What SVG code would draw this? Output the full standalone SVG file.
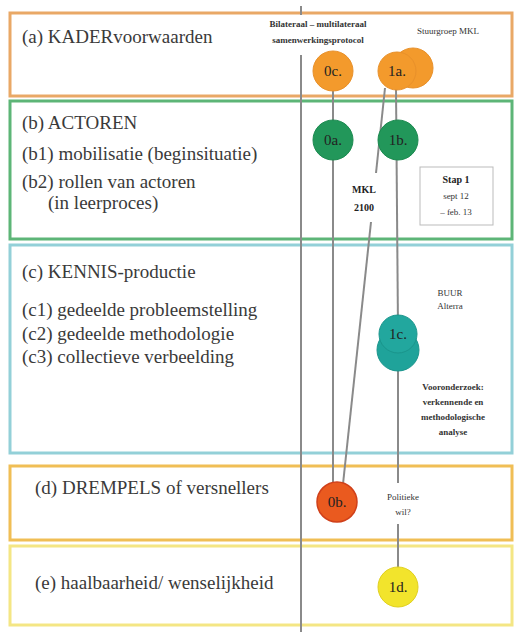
<svg xmlns="http://www.w3.org/2000/svg" width="514" height="632" viewBox="0 0 514 632">
<style>
text{font-family:'Liberation Serif','DejaVu Serif','Times New Roman',serif}
.box{fill:#ffffff;stroke-width:3}
.lbl{font-size:19px;fill:#3a3a3a}
.sm{font-size:9px;fill:#333;text-anchor:middle}
.smb{font-size:10px;fill:#222;text-anchor:middle;font-weight:bold}
.nt{font-size:15px;fill:#222;text-anchor:middle}
.conn line{stroke:#8a8a8a;stroke-width:2}
</style>
<rect width="514" height="632" fill="#ffffff"/>
<g id="box-a"><rect class="box" x="10" y="13" width="502" height="83" stroke="#E9A866"/>
<text class="lbl" x="22" y="43">(a) KADERvoorwaarden</text></g>
<g id="box-b"><rect class="box" x="10" y="101" width="502" height="138" stroke="#5DB577"/>
<text class="lbl" x="22" y="129">(b) ACTOREN</text>
<text class="lbl" x="22" y="160">(b1) mobilisatie (beginsituatie)</text>
<text class="lbl" x="22" y="188">(b2) rollen van actoren</text>
<text class="lbl" x="48" y="209">(in leerproces)</text></g>
<g id="box-c"><rect class="box" x="10" y="245" width="502" height="208" stroke="#93D0D8"/>
<text class="lbl" x="22" y="278">(c) KENNIS-productie</text>
<text class="lbl" x="22" y="316">(c1) gedeelde probleemstelling</text>
<text class="lbl" x="22" y="340">(c2) gedeelde methodologie</text>
<text class="lbl" x="22" y="363">(c3) collectieve verbeelding</text></g>
<g id="box-d"><rect class="box" x="10" y="466" width="502" height="74" stroke="#F0BE55"/>
<text class="lbl" x="35" y="494">(d) DREMPELS of versnellers</text></g>
<g id="box-e"><rect class="box" x="10" y="546" width="502" height="79" stroke="#F4E684"/>
<text class="lbl" x="35" y="589">(e) haalbaarheid/ wenselijkheid</text></g>
<g id="axis"><line x1="301" y1="6" x2="301" y2="632" stroke="#8a8a8a" stroke-width="2"/></g>
<g class="conn" id="connectors">
<line x1="333" y1="88" x2="333" y2="484"/>
<line x1="385" y1="88" x2="376" y2="173"/>
<line x1="371" y1="222" x2="343" y2="484"/>
<line x1="396" y1="88" x2="398" y2="330"/>
<line x1="398" y1="360" x2="398" y2="483"/>
<line x1="398" y1="524" x2="398" y2="570"/>
</g>
<g id="text-protocol"><rect x="256" y="15" width="124" height="40" fill="#ffffff"/>
<text class="sm" x="318" y="27" font-weight="bold">Bilateraal – multilateraal</text>
<text class="sm" x="318" y="43" font-weight="bold">samenwerkingsprotocol</text></g>
<g id="text-stuurgroep"><text class="sm" x="448" y="34">Stuurgroep MKL</text></g>
<g id="node-0c"><circle cx="333" cy="71" r="20" fill="#F39A2C" stroke="#E8902A"/><text class="nt" x="333" y="76">0c.</text></g>
<g id="node-1a"><circle cx="413" cy="68" r="20" fill="#F39A2C" stroke="#E8902A"/><circle cx="397" cy="71" r="19" fill="#F39A2C" stroke="#E8902A"/><text class="nt" x="397" y="76">1a.</text></g>
<g id="node-0a"><circle cx="333" cy="140" r="20" fill="#22975A" stroke="#1C8A50"/><text class="nt" x="333" y="145">0a.</text></g>
<g id="node-1b"><circle cx="398" cy="140" r="20" fill="#22975A" stroke="#1C8A50"/><text class="nt" x="398" y="145">1b.</text></g>
<g id="text-mkl"><text class="smb" x="364" y="193" font-size="11">MKL</text><text class="smb" x="364" y="211" font-size="11">2100</text></g>
<g id="stap1"><rect x="420" y="167" width="73" height="58" fill="#ffffff" stroke="#bbbbbb" stroke-width="1"/>
<text class="smb" x="456" y="183">Stap 1</text>
<text class="sm" x="456" y="199" font-size="10">sept 12</text>
<text class="sm" x="456" y="215" font-size="10">– feb. 13</text></g>
<g id="text-buur"><text class="sm" x="450" y="296" font-size="8">BUUR</text><text class="sm" x="450" y="309" font-size="8">Alterra</text></g>
<g id="node-1c"><circle cx="398" cy="350" r="21" fill="#1FA39A" stroke="#1A958C"/><circle cx="398" cy="334" r="19" fill="#22A79E" stroke="#1A958C"/><text class="nt" x="398" y="339">1c.</text></g>
<g id="text-vooronderzoek"><text class="sm" x="453" y="390" font-size="8.5" font-weight="bold">Vooronderzoek:</text>
<text class="sm" x="453" y="405" font-size="8.5" font-weight="bold">verkennende en</text>
<text class="sm" x="453" y="420" font-size="8.5" font-weight="bold">methodologische</text>
<text class="sm" x="453" y="435" font-size="8.5" font-weight="bold">analyse</text></g>
<g id="node-0b"><circle cx="337" cy="502" r="20" fill="#EA5A1F" stroke="#D0401A" stroke-width="1.5"/><text class="nt" x="337" y="507">0b.</text></g>
<g id="text-politieke"><text class="sm" x="403" y="500" font-size="8">Politieke</text><text class="sm" x="403" y="515" font-size="8">wil?</text></g>
<g id="node-1d"><circle cx="398" cy="587" r="20" fill="#F2E42C" stroke="#E0D020"/><text class="nt" x="398" y="592">1d.</text></g>
</svg>
